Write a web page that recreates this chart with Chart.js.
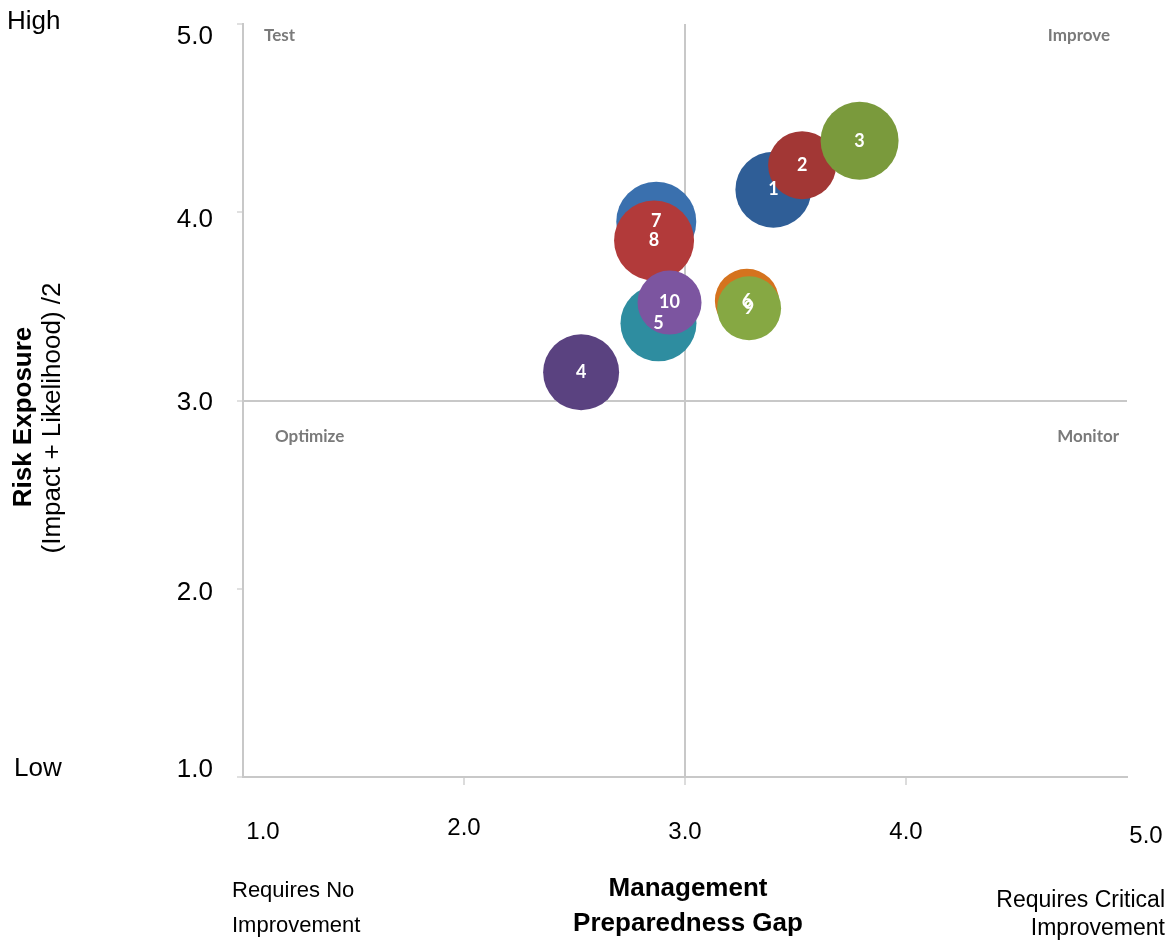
<!DOCTYPE html>
<html>
<head>
<meta charset="utf-8">
<script src="https://cdn.jsdelivr.net/npm/chart.js@4/dist/chart.umd.min.js"></script>
<style>
  body { margin: 0; background: #fff; }
  #wrap { width: 1171px; height: 943px; }
</style>
</head>
<body>
<div id="wrap"><canvas id="riskChart"></canvas></div>
<script>
// risk items
const labels = ['1', '2', '3', '4', '5', '6', '7', '8', '9', '10'];
const gapValues = [3.40, 3.53, 3.79, 2.53, 2.88, 3.28, 2.87, 2.86, 3.29, 2.93];
const exposureValues = [4.12, 4.25, 4.38, 3.15, 3.41, 3.53, 3.95, 3.85, 3.49, 3.52];
const bubbleSizes = [38, 34, 39, 38, 38, 32, 40, 40, 32, 32];
const colors = ['#2f5e97', '#a23735', '#7a9a3c', '#5a4280', '#2e8da0',
                '#d5731e', '#3a70ae', '#b23a3a', '#86a843', '#7c55a0'];
const tickValues = [1, 2, 3, 4, 5];
const tickLabels = ['1.0', '2.0', '3.0', '4.0', '5.0'];

const FONT = '"Liberation Sans", Arial, sans-serif';
const LABEL_FONT = 'Lato, "Open Sans", sans-serif';

const points = labels.map((l, i) => ({ x: gapValues[i], y: exposureValues[i], r: bubbleSizes[i] }));

const extras = {
  id: 'extras',
  afterDatasetsDraw(chart) {
    const ctx = chart.ctx;
    const meta = chart.getDatasetMeta(0);
    ctx.save();
    ctx.fillStyle = '#fff';
    ctx.font = 'bold 18px ' + LABEL_FONT;
    ctx.textAlign = 'center';
    ctx.textBaseline = 'middle';
    meta.data.forEach((el, i) => ctx.fillText(labels[i], el.x, el.y));
    ctx.restore();
  },
  afterDraw(chart) {
    const ctx = chart.ctx;
    const a = chart.chartArea;
    const xs = chart.scales.x;
    const ys = chart.scales.y;
    ctx.save();
    // quadrant names
    ctx.fillStyle = '#7a7a7a';
    ctx.font = 'bold 17px ' + LABEL_FONT;
    ctx.textBaseline = 'middle';
    ctx.textAlign = 'left';
    ctx.fillText('Test', a.left + 21, 36);
    ctx.fillText('Optimize', a.left + 32, 437);
    ctx.textAlign = 'right';
    ctx.fillText('Improve', a.right - 17, 36);
    ctx.fillText('Monitor', a.right - 8, 437);

    // tick labels, nudged like the text boxes of the original slide
    ctx.fillStyle = '#000';
    ctx.font = '24px ' + FONT;
    ctx.textAlign = 'center';
    const xNudge = [[20, 0], [0, -4], [0, 0], [0, 0], [19, 4]];
    tickValues.forEach((v, i) => {
      ctx.fillText(tickLabels[i], xs.getPixelForValue(v) + xNudge[i][0], 832 + xNudge[i][1]);
    });
    ctx.font = '26px ' + FONT;
    ctx.textAlign = 'right';
    const yNudge = [-7, 4, 2, 8, 13];
    tickValues.forEach((v, i) => {
      ctx.fillText(tickLabels[i], 213, ys.getPixelForValue(v) + yNudge[i]);
    });

    // high / low
    ctx.textAlign = 'left';
    ctx.fillText('High', 7, 22);
    ctx.fillText('Low', 14, 769);

    // y title
    ctx.save();
    ctx.translate(24, 417);
    ctx.rotate(-Math.PI / 2);
    ctx.textAlign = 'center';
    ctx.font = 'bold 26px ' + FONT;
    ctx.fillText('Risk Exposure', 0, 0);
    ctx.restore();
    ctx.save();
    ctx.translate(53, 418);
    ctx.rotate(-Math.PI / 2);
    ctx.textAlign = 'center';
    ctx.font = '26px ' + FONT;
    ctx.fillText('(Impact + Likelihood) /2', 0, 0);
    ctx.restore();

    // x title and notes
    ctx.font = '22px ' + FONT;
    ctx.textAlign = 'left';
    ctx.fillText('Requires No', 232, 891);
    ctx.fillText('Improvement', 232, 926);
    ctx.font = '23px ' + FONT;
    ctx.textAlign = 'right';
    ctx.fillText('Requires Critical', 1165, 901);
    ctx.fillText('Improvement', 1165, 929);
    ctx.textAlign = 'center';
    ctx.font = 'bold 26px ' + FONT;
    ctx.fillText('Management', 688, 889);
    ctx.fillText('Preparedness Gap', 688, 924);
    ctx.restore();
  }
};

new Chart(document.getElementById('riskChart'), {
  type: 'bubble',
  data: {
    datasets: [{
      data: points,
      backgroundColor: colors,
      borderColor: colors,
      borderWidth: 0
    }]
  },
  options: {
    responsive: true,
    maintainAspectRatio: false,
    animation: false,
    layout: { autoPadding: false, padding: { left: 0, top: 24, right: 44, bottom: 0 } },
    plugins: { legend: { display: false }, tooltip: { enabled: false } },
    scales: {
      x: {
        type: 'linear',
        min: 1, max: 5,
        afterFit: s => { s.height = 166; s.paddingLeft = 0; s.paddingRight = 0; },
        afterBuildTicks: s => { s.ticks = tickValues.map(v => ({ value: v })); },
        border: { color: '#c8c8c8', width: 2 },
        grid: {
          color: c => c.tick && c.tick.value === 3 ? '#c8c8c8' : 'rgba(0,0,0,0)',
          lineWidth: 2,
          tickColor: c => (c.tick && c.tick.value > 1 && c.tick.value < 5) ? '#dcdcdc' : 'rgba(0,0,0,0)',
          tickLength: 8
        },
        ticks: { display: false }
      },
      y: {
        type: 'linear',
        min: 1, max: 5,
        afterFit: s => { s.width = 243; s.paddingTop = 0; s.paddingBottom = 0; },
        afterBuildTicks: s => { s.ticks = tickValues.map(v => ({ value: v })); },
        border: { color: '#c8c8c8', width: 2 },
        grid: {
          color: c => c.tick && c.tick.value === 3 ? '#c8c8c8' : 'rgba(0,0,0,0)',
          lineWidth: 2,
          tickColor: '#e0e0e0',
          tickLength: 6
        },
        ticks: { display: false }
      }
    }
  },
  plugins: [extras]
});
</script>
</body>
</html>
